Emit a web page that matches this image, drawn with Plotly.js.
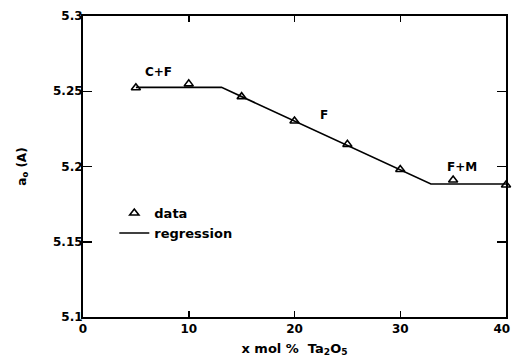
<!DOCTYPE html>
<html>
<head>
<meta charset="utf-8">
<script src="https://cdn.plot.ly/plotly-3.0.1.min.js"></script>
<style>html,body{margin:0;padding:0;background:#fff;}#chart{width:513px;height:359px;}</style>
</head>
<body>
<div id="chart"></div>
<script>
// Measured data (x mol % Ta2O5 vs lattice parameter a0)
var dataX = [5, 10, 15, 20, 25, 30, 35, 40];
var dataY = [5.2523, 5.2549, 5.2464, 5.2302, 5.2147, 5.1980, 5.1910, 5.1877];

// Regression (piecewise linear) breakpoints
var regX = [5, 13.1, 32.9, 40];
var regY = [5.2526, 5.2526, 5.1884, 5.1884];

// Phase-region labels
var phaseLabels = ['C+F', 'F', 'F+M'];
var phaseX = [7.1, 22.8, 35.8];
var phaseY = [5.263, 5.234, 5.2];

var xTicks = [0, 10, 20, 30, 40];
var xTickText = ['0', '10', '20', '30', '40&nbsp;&nbsp;'];
var yTicks = [5.1, 5.15, 5.2, 5.25, 5.3];
var yTickText = ['5.1', '5.15', '5.2', '5.25', '5.3'];

var FONT = 'DejaVu Sans, Liberation Sans, sans-serif';

var traces = [
  {
    x: dataX, y: dataY, name: 'data', type: 'scatter', mode: 'markers',
    marker: {symbol: 'triangle-up-open', size: 8, color: '#000', line: {color: '#000', width: 1.6}},
    cliponaxis: false
  },
  {
    x: regX, y: regY, name: 'regression', type: 'scatter', mode: 'lines',
    line: {color: '#000', width: 1.6}
  }
];

var annotations = phaseLabels.map(function (t, i) {
  return {x: phaseX[i], y: phaseY[i], xref: 'x', yref: 'y', text: t, showarrow: false,
          font: {family: FONT, size: 12, color: '#000', weight: 'bold'}};
});

var axisCommon = {
  showgrid: false, zeroline: false, showline: true, linecolor: '#000', linewidth: 2,
  mirror: 'ticks', ticks: 'inside', tickcolor: '#000', tickwidth: 1.5,
  ticklabeloverflow: 'allow',
  tickfont: {family: FONT, size: 12, color: '#000', weight: 'bold'}
};

var layout = {
  width: 513, height: 359,
  margin: {l: 83, r: 7, t: 16, b: 42},
  paper_bgcolor: '#fff', plot_bgcolor: '#fff',
  showlegend: true,
  legend: {x: 0.074, y: 0.395, xanchor: 'left', yanchor: 'top', bgcolor: 'rgba(0,0,0,0)',
           font: {family: FONT, size: 13, color: '#000', weight: 'bold'}, tracegroupgap: 0},
  xaxis: Object.assign({}, axisCommon, {
    range: [0, 40], tickvals: xTicks, ticktext: xTickText, ticklen: 6,
    title: {text: 'x&nbsp;mol&nbsp;%&nbsp;&nbsp;Ta<sub>2</sub>O<sub>5</sub>', standoff: 8,
            font: {family: FONT, size: 13, color: '#000', weight: 'bold'}}
  }),
  yaxis: Object.assign({}, axisCommon, {
    range: [5.1, 5.3], tickvals: yTicks, ticktext: yTickText, ticklen: 9,
    ticklabelstandoff: -4,
    title: {text: 'a<sub>o</sub> (A)', standoff: 24,
            font: {family: FONT, size: 12, color: '#000', weight: 'bold'}}
  }),
  annotations: annotations
};

Plotly.newPlot('chart', traces, layout, {displayModeBar: false, staticPlot: true});
</script>
</body>
</html>
